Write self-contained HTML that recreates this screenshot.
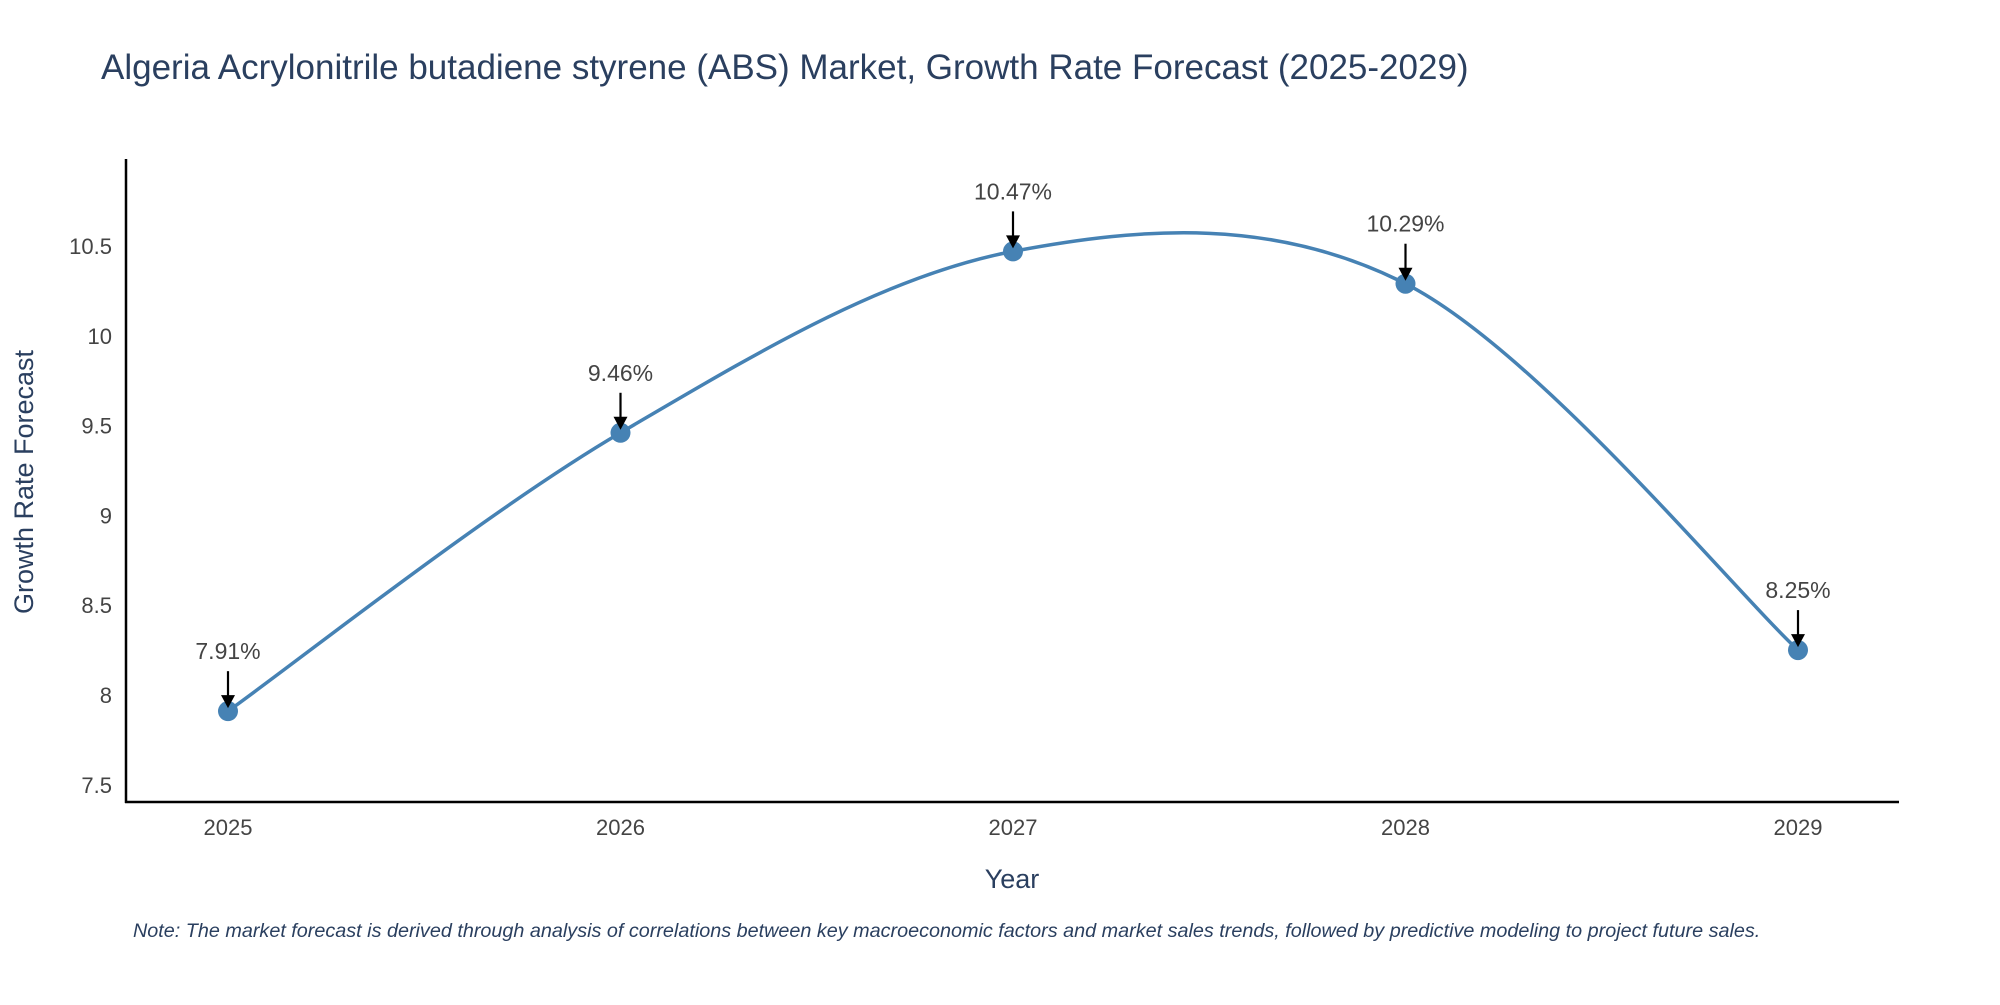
<!DOCTYPE html>
<html><head><meta charset="utf-8">
<style>
body{margin:0;background:#fff;}
svg text{font-family:"Liberation Sans",sans-serif;}
</style></head>
<body>
<svg id="chart" width="2000" height="1000" viewBox="0 0 2000 1000">
<text x="101" y="79" font-size="35" fill="#2a3f5f">Algeria Acrylonitrile butadiene styrene (ABS) Market, Growth Rate Forecast (2025-2029)</text>
<g id="yticks"></g><g id="xticks"></g>
<line x1="126" y1="159" x2="126" y2="803" stroke="#000" stroke-width="2.5"/>
<line x1="125" y1="802" x2="1899" y2="802" stroke="#000" stroke-width="2.5"/>
<path id="line" fill="none" stroke="#4682b4" stroke-width="3.5"/>
<g id="pts"></g>
<text x="1012" y="888" font-size="27" fill="#2a3f5f" text-anchor="middle">Year</text>
<text transform="translate(33,482) rotate(-90)" font-size="27" fill="#2a3f5f" text-anchor="middle">Growth Rate Forecast</text>
<text x="133" y="937" font-size="19.8" font-style="italic" fill="#2a3f5f">Note: The market forecast is derived through analysis of correlations between key macroeconomic factors and market sales trends, followed by predictive modeling to project future sales.</text>
</svg>
<script>
const years=[2025,2026,2027,2028,2029];
const values=[7.91,9.46,10.47,10.29,8.25];
const labels=["7.91%","9.46%","10.47%","10.29%","8.25%"];
const yTickVals=[7.5,8,8.5,9,9.5,10,10.5];
const yTickLabels=["7.5","8","8.5","9","9.5","10","10.5"];
const NS="http://www.w3.org/2000/svg";
function xs(v){return 228+(v-2025)*(1798-228)/4;}
function ys(v){return 695-(v-8)*(695-246)/2.5;}
function mk(tag,attrs,parent){const e=document.createElementNS(NS,tag);for(const k in attrs)e.setAttribute(k,attrs[k]);parent.appendChild(e);return e;}
const yt=document.getElementById('yticks');
yTickVals.forEach((v,i)=>{const t=mk('text',{x:112,y:ys(v)+8,'font-size':22,fill:'#444','text-anchor':'end'},yt);


t.textContent=yTickLabels[i];});
const xt=document.getElementById('xticks');
years.forEach(y=>{const t=mk('text',{x:xs(y),y:835,'font-size':22,fill:'#444','text-anchor':'middle'},xt);


t.textContent=y;});
const P=years.map((y,i)=>[xs(y),ys(values[i])]);
let d='M'+P[0][0]+','+P[0][1];
for(let i=0;i<P.length-1;i++){const p0=P[Math.max(i-1,0)],p1=P[i],p2=P[i+1],p3=P[Math.min(i+2,P.length-1)];
const k=1/6;
d+=' C'+(p1[0]+(p2[0]-p0[0])*k)+','+(p1[1]+(p2[1]-p0[1])*k)+' '+(p2[0]-(p3[0]-p1[0])*k)+','+(p2[1]-(p3[1]-p1[1])*k)+' '+p2[0]+','+p2[1];}
document.getElementById('line').setAttribute('d',d);
const g=document.getElementById('pts');
P.forEach((p,i)=>{
const c=mk('circle',{cx:p[0],cy:p[1],r:10,fill:'#4682b4'},g);


const a=mk('line',{x1:p[0],y1:p[1]-40,x2:p[0],y2:p[1]-14,stroke:'#000','stroke-width':2.2},g);


const h=mk('polygon',{points:(p[0]-7)+','+(p[1]-16)+' '+(p[0]+7)+','+(p[1]-16)+' '+p[0]+','+(p[1]-3),fill:'#000'},g);


const t=mk('text',{x:p[0],y:p[1]-52,'font-size':23,fill:'#444','text-anchor':'middle'},g);


t.textContent=labels[i];});
</script>
</body></html>
